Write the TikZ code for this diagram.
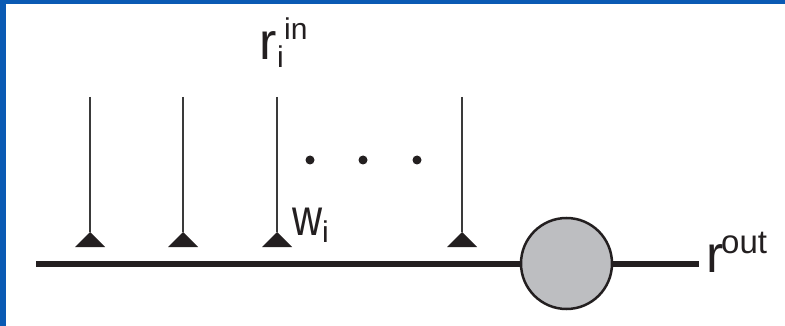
\documentclass[tikz,border=0pt]{standalone}
\usepackage{fontspec}
\setmainfont{Liberation Sans}
\definecolor{frameblue}{HTML}{0A5AB4}
\definecolor{somagray}{HTML}{BDBEC1}
\definecolor{ink}{HTML}{231F20}
\definecolor{stem}{HTML}{3A3A3A}
\begin{document}
\begin{tikzpicture}[x=1pt,y=-1pt,
  big/.style={inner sep=0pt, anchor=base west, text=ink, font=\fontsize{52}{60}\selectfont},
  small/.style={inner sep=0pt, anchor=base west, text=ink, font=\fontsize{30}{36}\selectfont},
  fiber/.style={draw=ink, line width=6pt},
  stemline/.style={draw=stem, line width=1.8pt},
  soma/.style={circle, draw=ink, line width=2.5pt, fill=somagray, minimum size=91pt, inner sep=0pt},
  dotmark/.style={circle, fill=ink, minimum size=9pt, inner sep=0pt}
]
\useasboundingbox (0,0) rectangle (785,326);
% frame edges
\fill[frameblue] (0,0) rectangle (785,4);
\fill[frameblue] (0,0) rectangle (6,326);

% fiber with the cell body
\coordinate (left) at (36,263.5);
\coordinate (right) at (699,263.5);
\node[soma] (cell) at (566.5,263.5) {};
\draw[fiber] (left) -- (cell.west);
\draw[fiber] (cell.east) -- (right);

% input lines ending in synapses
\foreach \n/\x in {a/90, b/183, c/277, d/462} {
  \coordinate (top\n) at (\x,97);
  \coordinate (syn\n) at (\x,232);
  \draw[stemline] (top\n) -- (syn\n);
  \fill[ink] (syn\n) -- ++(15,15) -- ++(-30,0) -- cycle;
}

% ellipsis
\node[dotmark] (dot1) at (310,160) {};
\node[dotmark] (dot2) at (363,160) {};
\node[dotmark] (dot3) at (417,160) {};

% labels
\node[big] (rin) at (259,60) {r};
\node[small] (rinsub) at (277,68) {i};
\node[small] (rinsup) at (284,40) {in};

\node[big, xscale=0.8] (w) at (292,235) {w};
\node[small] (wsub) at (322,243) {i};

\node[big] (rout) at (706,272) {r};
\node[small, font=\fontsize{33}{36}\selectfont] (routsup) at (721,253) {out};
\end{tikzpicture}
\end{document}
